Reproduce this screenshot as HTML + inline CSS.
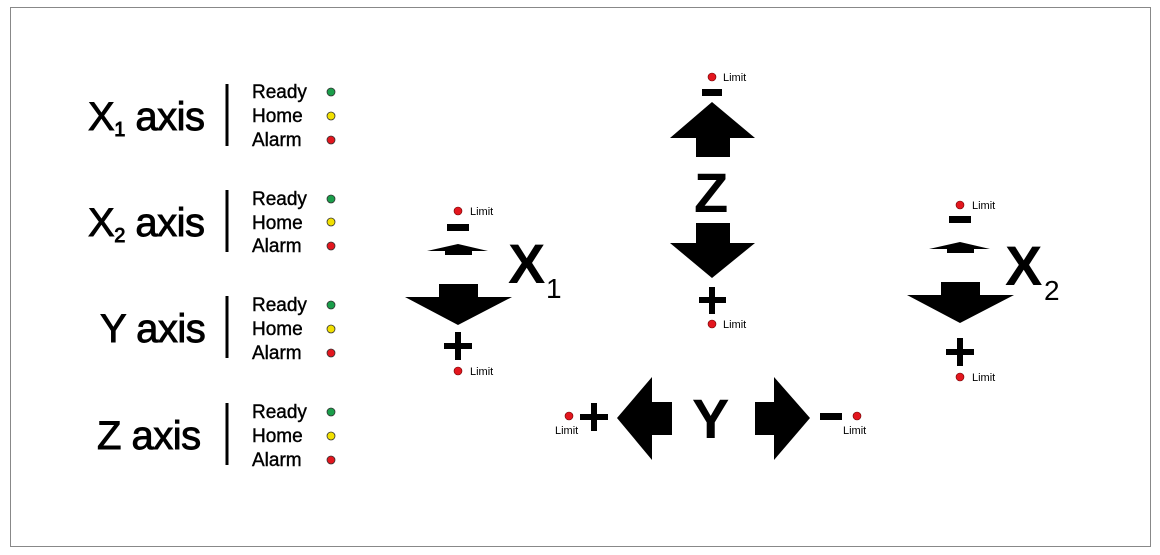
<!DOCTYPE html>
<html><head><style>
body{margin:0;background:#fff;width:1160px;height:555px;position:relative;overflow:hidden;font-family:"Liberation Sans",sans-serif}
.frame{position:absolute;left:10px;top:7px;width:1139px;height:538px;border:1px solid #888}
</style></head><body>
<div class="frame"></div>
<svg width="1160" height="555" style="position:absolute;left:0;top:0" font-family="Liberation Sans, sans-serif">
<g font-size="40" fill="#000" stroke="#000" stroke-width="0.9" letter-spacing="-0.5">
<text x="88" y="130">X<tspan font-size="20" dy="6">1</tspan><tspan dy="-6"> axis</tspan></text>
<text x="88" y="236">X<tspan font-size="20" dy="6">2</tspan><tspan dy="-6"> axis</tspan></text>
<text x="100" y="342">Y axis</text>
<text x="97" y="449">Z axis</text>
</g>
<g stroke="#000" stroke-width="3">
<line x1="227" y1="84" x2="227" y2="146"/>
<line x1="227" y1="190" x2="227" y2="252"/>
<line x1="227" y1="296" x2="227" y2="358"/>
<line x1="227" y1="403" x2="227" y2="465"/>
</g>
<g font-size="19" fill="#000" stroke="#000" stroke-width="0.4">
<text x="252" y="98">Ready</text><text x="252" y="122">Home</text><text x="252" y="146">Alarm</text>
<text x="252" y="205">Ready</text><text x="252" y="229">Home</text><text x="252" y="252">Alarm</text>
<text x="252" y="311">Ready</text><text x="252" y="335">Home</text><text x="252" y="359">Alarm</text>
<text x="252" y="418">Ready</text><text x="252" y="442">Home</text><text x="252" y="466">Alarm</text>
</g>
<g stroke="#333" stroke-width="0.8">
<circle cx="331" cy="92" r="4" fill="#1a9e4a"/><circle cx="331" cy="116" r="4" fill="#f2e000"/><circle cx="331" cy="140" r="4" fill="#e3161e"/>
<circle cx="331" cy="199" r="4" fill="#1a9e4a"/><circle cx="331" cy="222" r="4" fill="#f2e000"/><circle cx="331" cy="246" r="4" fill="#e3161e"/>
<circle cx="331" cy="305" r="4" fill="#1a9e4a"/><circle cx="331" cy="329" r="4" fill="#f2e000"/><circle cx="331" cy="353" r="4" fill="#e3161e"/>
<circle cx="331" cy="412" r="4" fill="#1a9e4a"/><circle cx="331" cy="436" r="4" fill="#f2e000"/><circle cx="331" cy="460" r="4" fill="#e3161e"/>
</g>
<g fill="#e3161e" stroke="#600" stroke-width="0.6">
<circle cx="458" cy="211" r="4"/><circle cx="458" cy="371" r="4"/>
<circle cx="712" cy="77" r="4"/><circle cx="712" cy="324" r="4"/>
<circle cx="960" cy="205" r="4"/><circle cx="960" cy="377" r="4"/>
<circle cx="569" cy="416" r="4"/><circle cx="857" cy="416" r="4"/>
</g>
<g font-size="11" fill="#000">
<text x="470" y="215">Limit</text><text x="470" y="375">Limit</text>
<text x="723" y="81">Limit</text><text x="723" y="328">Limit</text>
<text x="972" y="209">Limit</text><text x="972" y="381">Limit</text>
<text x="555" y="434">Limit</text><text x="843" y="434">Limit</text>
</g>
<g fill="#000">
<rect x="447" y="224" width="22" height="7"/>
<polygon points="458,244 488,251 472,251 472,255 445,255 445,251 427,251"/>
<polygon points="439,284 478,284 478,297 512,297 458,325 405,297 439,297"/>
<rect x="444" y="343" width="28" height="6"/><rect x="455" y="332" width="6" height="28"/>
</g>
<text x="508" y="283" font-size="56" font-weight="bold" fill="#000">X</text>
<text x="546" y="298" font-size="28" fill="#000">1</text>
<g fill="#000" transform="translate(502,-2)">
<rect x="447" y="218" width="22" height="7"/>
<polygon points="458,244 488,251 472,251 472,255 445,255 445,251 427,251"/>
<polygon points="439,284 478,284 478,297 512,297 458,325 405,297 439,297"/>
<rect x="444" y="351" width="28" height="6"/><rect x="455" y="340" width="6" height="28"/>
</g>
<text x="1005" y="285" font-size="56" font-weight="bold" fill="#000">X</text>
<text x="1044" y="300" font-size="28" fill="#000">2</text>
<g fill="#000">
<rect x="702" y="89" width="20" height="7"/>
<polygon points="712,102 755,138 730,138 730,157 696,157 696,138 670,138"/>
<polygon points="696,223 730,223 730,243 755,243 712,278 670,243 696,243"/>
<rect x="699" y="297" width="27" height="6"/><rect x="709" y="287" width="6" height="27"/>
</g>
<text x="694" y="212" font-size="56" font-weight="bold" fill="#000">Z</text>
<g fill="#000">
<polygon points="617,418 652,377 652,402 672,402 672,435 652,435 652,460"/>
<polygon points="810,418 774,377 774,402 755,402 755,435 774,435 774,460"/>
<rect x="580" y="414" width="28" height="6"/><rect x="591" y="403" width="6" height="28"/>
<rect x="820" y="413" width="22" height="7"/>
</g>
<text x="692" y="438" font-size="56" font-weight="bold" fill="#000">Y</text>
</svg>
</body></html>
